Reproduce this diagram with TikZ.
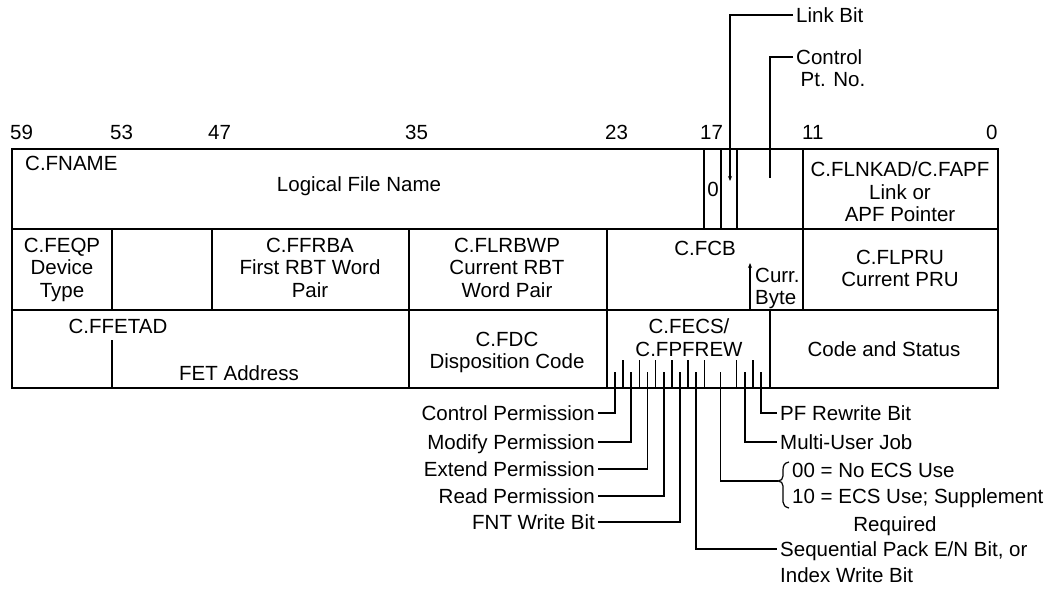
\documentclass[tikz,border=0pt]{standalone}
\usepackage{fontspec}
\setmainfont{Liberation Sans}
\usetikzlibrary{arrows.meta}
\begin{document}
\begin{tikzpicture}[x=1pt,y=-1pt,
  txt/.style={font=\fontsize{20.5}{22.5}\selectfont, inner sep=0pt},
  lbl/.style={txt, text height=14.7pt, text depth=0pt},
  ml/.style={txt, align=center, anchor=north},
  tag/.style={lbl, inner xsep=3pt},
  frame/.style={line width=1.8pt},
  tick/.style={line width=1.4pt},
  leader/.style={line width=1.6pt},
  tip/.style={-{Stealth[length=5pt,width=4pt]}},
]
\useasboundingbox (0,0) rectangle (1059,589);

% bit numbers
\node[lbl, anchor=west] (n59) at (10,132) {59};
\node[lbl, anchor=west] (n53) at (110,132) {53};
\node[lbl, anchor=west] (n47) at (208,132) {47};
\node[lbl, anchor=west] (n35) at (405,132) {35};
\node[lbl, anchor=west] (n23) at (605,132) {23};
\node[lbl, anchor=west] (n17) at (700,132) {17};
\node[lbl, anchor=west] (n11) at (802,132) {11};
\node[lbl, anchor=west] (n0) at (986,132) {0};

% frame
\draw[frame] (12,149) rectangle (998,388);
\draw[frame] (12,229) -- (998,229);
\draw[frame] (12,310) -- (998,310);
\foreach \x in {704,721,737,803} \draw[frame] (\x,149) -- (\x,229);
\foreach \x in {112,212,409,607,803} \draw[frame] (\x,229) -- (\x,310);
\foreach \x in {409,607,770} \draw[frame] (\x,310) -- (\x,388);
\draw[frame] (112,340) -- (112,388);

% row 1
\node[lbl, anchor=west] (fname) at (25,163) {C.FNAME};
\node[lbl] (lfn) at (359,184) {Logical File Name};
\node[lbl] (zbit) at (713,189) {0};
\node[ml] (flnk) at (900,161.6) {C.FLNKAD/C.FAPF\\Link or\\APF Pointer};

% link bit and control point
\node[tag, anchor=west] (lbit) at (793,15) {Link Bit};
\coordinate (linkend) at (730,181);
\draw[leader, tip] (lbit.west) -| (linkend);
\node[tag, anchor=west] (ctl) at (793,57) {Control};
\node[lbl] (ptno) at (833,79) {Pt. No.};
\coordinate (ctlend) at (770,178);
\draw[leader] (ctl.west) -| (ctlend);

% row 2
\node[ml] (feqp) at (62,237.6) {C.FEQP\\Device\\Type};
\node[ml] (ffrba) at (310,237.6) {C.FFRBA\\First RBT Word\\Pair};
\node[ml] (flrbwp) at (507,237.6) {C.FLRBWP\\Current RBT\\Word Pair};
\node[lbl] (fcb) at (705,248) {C.FCB};
\node[txt, align=left, anchor=north west] (cbyte) at (755,267.6) {Curr.\\Byte};
\coordinate (cbbot) at (750,310);
\coordinate (cbtop) at (750,263);
\draw[leader, tip] (cbbot) -- (cbtop);
\node[ml] (flpru) at (900,249.6) {C.FLPRU\\Current PRU};

% row 3
\node[lbl] (ffetad) at (118,326) {C.FFETAD};
\node[lbl] (fetad) at (239,373) {FET Address};
\node[ml] (fdc) at (507,331.6) {C.FDC\\Disposition Code};
\node[ml] (fecs) at (689,318.6) {C.FECS/\\C.FPFREW};
\node[lbl] (cas) at (884,349) {Code and Status};

% bit ticks of C.FECS/C.FPFREW
\foreach \x in {623.1,639.3,655.6,671.8,688.0,704.2,736.7,752.9}
  \draw[tick] (\x,360) -- (\x,388);
\coordinate (b0) at (615.0,372);
\coordinate (b2) at (631.2,372);
\coordinate (b4) at (647.4,372);
\coordinate (b6) at (663.7,372);
\coordinate (b8) at (679.9,372);
\coordinate (b10) at (696.1,372);
\coordinate (b13) at (720.4,372);
\coordinate (b16) at (744.8,372);
\coordinate (b18) at (761.0,372);

% left labels
\node[tag, anchor=east] (cperm) at (598,413) {Control Permission};
\node[tag, anchor=east] (mperm) at (598,442) {Modify Permission};
\node[tag, anchor=east] (eperm) at (598,469) {Extend Permission};
\node[tag, anchor=east] (rperm) at (598,496) {Read Permission};
\node[tag, anchor=east] (fntw) at (598,522) {FNT Write Bit};
\draw[leader] (b0) |- (cperm.east);
\draw[leader] (b2) |- (mperm.east);
\draw[leader] (b4) |- (eperm.east);
\draw[leader] (b6) |- (rperm.east);
\draw[leader] (b8) |- (fntw.east);

% right labels
\node[tag, anchor=west] (pfrw) at (777,413) {PF Rewrite Bit};
\node[tag, anchor=west] (muj) at (777,442) {Multi-User Job};
\node[tag, anchor=west] (seq) at (777,549) {Sequential Pack E/N Bit, or};
\node[lbl, anchor=west] (iwb) at (780,575) {Index Write Bit};
\draw[leader] (b18) |- (pfrw.west);
\draw[leader] (b16) |- (muj.west);
\draw[leader] (b10) |- (seq.west);

\coordinate (bracetip) at (778,481);
\draw[leader] (b13) |- (bracetip);
\draw[line width=1.2pt] (789,462) .. controls (784,463) and (783,466) .. (783,470)
  -- (783,476) .. controls (783,479) and (781,481) .. (bracetip)
  .. controls (781,481) and (783,483) .. (783,486)
  -- (783,502) .. controls (783,505) and (785,507) .. (789,508);
\node[lbl, anchor=west] (ecs0) at (792,470) {00 = No ECS Use};
\node[lbl, anchor=west] (ecs1) at (792,496) {10 = ECS Use; Supplement};
\node[lbl] (req) at (895,524) {Required};
\end{tikzpicture}
\end{document}
